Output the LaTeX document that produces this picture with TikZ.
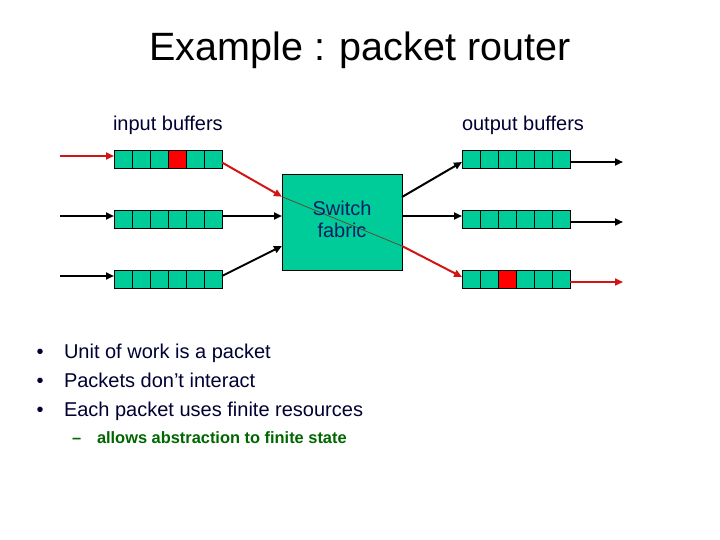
\documentclass[tikz,border=0pt]{standalone}
\usepackage{fontspec}
\setmainfont{Liberation Sans}
\usetikzlibrary{arrows.meta,calc}
\definecolor{teal1}{RGB}{0,204,153}
\definecolor{redc}{RGB}{255,0,0}
\definecolor{arrred}{RGB}{210,20,20}
\definecolor{navy1}{RGB}{0,0,51}
\definecolor{fabtext}{RGB}{10,30,100}
\definecolor{green1}{RGB}{0,102,0}
\definecolor{thinline}{RGB}{110,60,40}
\begin{document}
\begin{tikzpicture}[x=1pt,y=-1pt,
  buf/.style={fill=teal1, minimum width=108pt, minimum height=18pt, inner sep=0pt, outer sep=0pt},
  cellline/.style={draw=black, line width=0.9pt},
  fabric/.style={draw=black, line width=0.9pt, fill=teal1, minimum width=120pt, minimum height=96pt, inner sep=0pt, outer sep=0pt},
  arr/.style={line width=2pt, -{Triangle[length=8pt,width=7pt]}},
  redarr/.style={arr, draw=arrred, color=arrred},
  txt/.style={inner sep=0pt, outer sep=0pt, anchor=base west},
  bul/.style={txt, font=\fontsize{20}{24}\selectfont, text=navy1}
]
\useasboundingbox[fill=white] (0,0) rectangle (720,540);

% title
\node[inner sep=0pt, anchor=base, font=\fontsize{39.5}{48}\selectfont] (title) at (360,61) {Example : packet router};

% labels
\node[txt, font=\fontsize{20}{24}\selectfont, text=navy1] (lin) at (113,131) {input buffers};
\node[txt, font=\fontsize{20}{24}\selectfont, text=navy1] (lout) at (462,131) {output buffers};

% buffers
\node[buf] (in1) at (168,159) {};
\node[buf] (in2) at (168,219) {};
\node[buf] (in3) at (168,279) {};
\node[buf] (out1) at (516,159) {};
\node[buf] (out2) at (516,219) {};
\node[buf] (out3) at (516,279) {};
\fill[redc] ($(in1.west)+(54,-9)$) rectangle +(18,18);
\fill[redc] ($(out3.west)+(36,-9)$) rectangle +(18,18);
\foreach \b in {in1,in2,in3,out1,out2,out3}{
  \foreach \i in {1,...,5}{
    \draw[cellline] ($(\b.west)+(\i*18,-9)$) -- +(0,18);
  }
  \draw[cellline] (\b.north west) rectangle (\b.south east);
}

% fabric
\node[fabric] (fab) at (342,222) {};
\draw[thinline, line width=0.7pt] ([yshift=25.3pt]fab.west) -- ([yshift=-24pt]fab.east);
\node[inner sep=0pt, anchor=base, font=\fontsize{20}{24}\selectfont, text=fabtext] (fab1) at (342,215.5) {Switch};
\node[inner sep=0pt, anchor=base, font=\fontsize{20}{24}\selectfont, text=fabtext] (fab2) at (342,237.5) {fabric};

% input arrows
\coordinate (s1) at (60,156);
\coordinate (s2) at (60,216);
\coordinate (s3) at (60,276);
\draw[redarr] (s1) -- ([yshift=3pt]in1.west);
\draw[arr] (s2) -- ([yshift=3pt]in2.west);
\draw[arr] (s3) -- ([yshift=3pt]in3.west);

% to fabric
\draw[redarr] ([yshift=-3.5pt]in1.east) -- ([yshift=25.3pt]fab.west);
\draw[arr] ([yshift=3pt]in2.east) -- ([yshift=6pt]fab.west);
\draw[arr] ([yshift=3pt]in3.east) -- ([yshift=-24pt]fab.west);

% from fabric
\draw[arr] ([yshift=25pt]fab.east) -- ([yshift=-3pt]out1.west);
\draw[arr] ([yshift=6pt]fab.east) -- ([yshift=3pt]out2.west);
\draw[redarr] ([yshift=-24pt]fab.east) -- ([yshift=2pt]out3.west);

% output arrows
\coordinate (e1) at (623,162);
\coordinate (e2) at (623,222);
\coordinate (e3) at (623,282);
\draw[arr] ([yshift=-3pt]out1.east) -- (e1);
\draw[arr] ([yshift=-3pt]out2.east) -- (e2);
\draw[redarr, line width=1.6pt] ([yshift=-3pt]out3.east) -- (e3);

% bullets
\node[bul] (b1d) at (36.5,358) {•};
\node[bul] (b1) at (64,358) {Unit of work is a packet};
\node[bul] (b2d) at (36.5,387) {•};
\node[bul] (b2) at (64,387) {Packets don’t interact};
\node[bul] (b3d) at (36.5,416) {•};
\node[bul] (b3) at (64,416) {Each packet uses finite resources};
\node[txt, font=\fontsize{16.4}{19}\selectfont\bfseries, text=green1] (sd) at (72,443) {–};
\node[txt, font=\fontsize{16.4}{19}\selectfont\bfseries, text=green1] (s) at (97,443) {allows abstraction to finite state};
\end{tikzpicture}
\end{document}
